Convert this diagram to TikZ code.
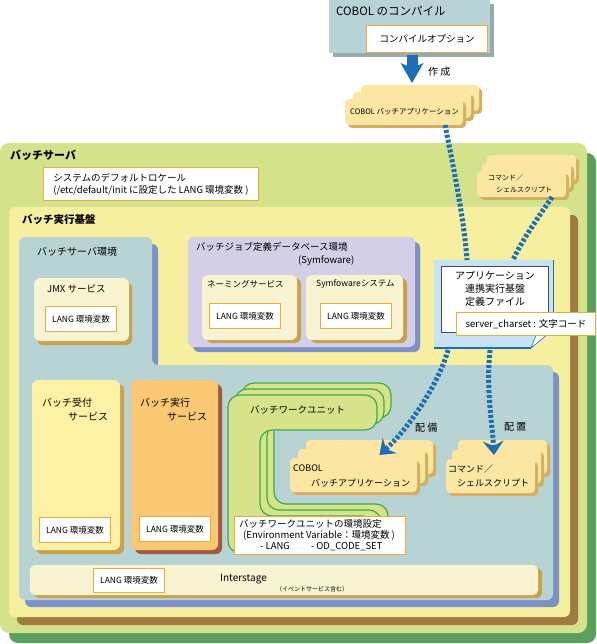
\documentclass[tikz,border=0pt]{standalone}
\usepackage{fontspec}
\setmainfont{Noto Sans CJK JP}
\usetikzlibrary{arrows.meta,shadows}

\definecolor{compblue}{HTML}{B8D3D5}
\definecolor{compshade}{HTML}{93ABAE}
\definecolor{srvgreen}{HTML}{D5E28C}
\definecolor{srvshade}{HTML}{5B9F5F}
\definecolor{baseyellow}{HTML}{F5EF9F}
\definecolor{baseshade}{HTML}{A07B3F}
\definecolor{envblue}{HTML}{B8D3D4}
\definecolor{envshade}{HTML}{7C91C9}
\definecolor{dblav}{HTML}{D3CFE7}
\definecolor{creamcard}{HTML}{F8F3D1}
\definecolor{creamshade}{HTML}{C9A04E}
\definecolor{stackfill}{HTML}{FBE6A2}
\definecolor{stackshade}{HTML}{D4AF60}
\definecolor{recvfill}{HTML}{FEF0A5}
\definecolor{execfill}{HTML}{FAC873}
\definecolor{execshade}{HTML}{9D5B3D}
\definecolor{boxorange}{HTML}{F2A93B}
\definecolor{flowblue}{HTML}{1B6EB8}
\definecolor{docblue}{HTML}{C6E2F3}
\definecolor{wugreen}{HTML}{D7E38A}
\definecolor{wuline}{HTML}{3DAA4A}

\tikzset{
  backing/.style n args={3}{general shadow={fill=#1, shadow xshift=#2, shadow yshift=#3}},
  pane/.style={anchor=north west, inner sep=0pt, outer sep=0pt, rounded corners=6pt},
  langbox/.style={anchor=north west, draw=boxorange, line width=1pt, fill=white,
    minimum width=71pt, minimum height=25pt, inner sep=0pt, font=\fontsize{8.5}{10}\selectfont},
  notebox/.style={anchor=north west, draw=boxorange, line width=1pt, fill=white, inner sep=0pt},
  card/.style={fill=stackfill, rounded corners=4pt, backing={stackshade}{3pt}{-3pt}},
  heading/.style={anchor=west, inner sep=0pt, font=\bfseries\fontsize{11}{13}\selectfont},
  txt/.style={anchor=west, inner sep=0pt, font=\fontsize{10}{12}\selectfont},
  flow/.style={draw=flowblue, line width=5pt, dash pattern=on 3pt off 2pt},
  flowtip/.style={-{Stealth[length=14pt,width=21pt,inset=5pt,line width=0pt]}},
  bigflow/.style={draw=flowblue, line width=11pt, -{Stealth[length=20pt,width=23pt,inset=5pt,line width=0pt]}},
  wuframe/.style={fill=wugreen, draw=wuline, line width=1.2pt, rounded corners=12pt},
}

\begin{document}
\begin{tikzpicture}[x=1pt, y=-1pt]
\useasboundingbox (0,0) rectangle (596,644);

% COBOL compile
\node[pane, rounded corners=0pt, fill=compblue, backing={compshade}{4pt}{-4pt},
  minimum width=161pt, minimum height=53pt] (compile) at (329,0) {};
\node[txt, font=\fontsize{11.5}{13}\selectfont] (compileTitle) at (336,11) {COBOL のコンパイル};
\node[notebox, minimum width=121pt, minimum height=27pt, font=\fontsize{9.5}{11}\selectfont]
  (compileOpt) at (366,25) {コンパイルオプション};

% COBOL app (top)
\foreach \k in {2,1}
  \fill[card, shift={({8*\k},{-7*\k})}] (345,99) rectangle (463,125);
\node[pane, card, minimum width=118pt, minimum height=26pt] (cobolTop) at (345,99) {};
\node[txt, font=\fontsize{7.5}{9}\selectfont] (cobolTopText) at (350,112) {COBOL バッチアプリケーション};

% batch server
\node[pane, rounded corners=9pt, fill=srvgreen, backing={srvshade}{9pt}{-10pt},
  minimum width=587pt, minimum height=490pt] (server) at (0,143) {};
\node[heading] (serverTitle) at (10,155) {バッチサーバ};
\node[notebox, minimum width=215pt, minimum height=33pt, align=left, font=\fontsize{9.5}{12}\selectfont]
  (locale) at (43,167) {システムのデフォルトロケール\\(/etc/default/init に設定した LANG 環境変数 )};

% command / shell script (top)
\foreach \k in {2,1}
  \fill[card, shift={({5*\k},{-8*\k})}] (477,171) rectangle (566,197);
\node[pane, card, minimum width=89pt, minimum height=26pt] (cmdTop) at (477,171) {};
\node[txt, font=\fontsize{7}{8}\selectfont] (cmdTopA) at (488,178) {コマンド／};
\node[txt, font=\fontsize{7}{8}\selectfont] (cmdTopB) at (496,190) {シェルスクリプト};

% batch execution base
\node[pane, fill=baseyellow, backing={baseshade}{8pt}{-8pt},
  minimum width=561pt, minimum height=410pt] (base) at (9,207) {};
\node[heading, font=\bfseries\fontsize{10.5}{12}\selectfont] (baseTitle) at (22,220) {バッチ実行基盤};

% batch server environment
\fill[envshade, rounded corners=6pt, shift={(6,7)}]
  (19,237) -- (152,237) -- (152,365) -- (553,365) -- (553,600) -- (19,600) -- cycle;
\fill[envblue, rounded corners=6pt]
  (19,237) -- (152,237) -- (152,365) -- (553,365) -- (553,600) -- (19,600) -- cycle;
\node[txt] (envTitle) at (37,252) {バッチサーバ環境};

\node[pane, fill=creamcard, backing={creamshade}{3pt}{-4pt},
  minimum width=95pt, minimum height=63pt] (jmx) at (34,278) {};
\node[txt, font=\fontsize{9.5}{11}\selectfont] (jmxTitle) at (47,289) {JMX サービス};
\node[langbox] (jmxLang) at (45,306) {LANG 環境変数};

% job definition database
\node[pane, fill=dblav, backing={envshade}{5pt}{-5pt},
  minimum width=227pt, minimum height=110pt] (dbEnv) at (188,237) {};
\node[txt, font=\fontsize{9.5}{11}\selectfont] (dbTitle) at (196,247) {バッチジョブ定義データベース環境};
\node[txt, font=\fontsize{9.5}{11}\selectfont] (dbSub) at (298,261) {(Symfoware)};

\node[pane, fill=creamcard, backing={creamshade}{4pt}{-3pt},
  minimum width=95pt, minimum height=65pt] (naming) at (202,275) {};
\node[txt, font=\fontsize{8.5}{10}\selectfont] (namingTitle) at (207,284) {ネーミングサービス};
\node[langbox] (namingLang) at (209,303) {LANG 環境変数};

\node[pane, fill=creamcard, backing={creamshade}{4pt}{-3pt},
  minimum width=97pt, minimum height=65pt] (symf) at (306,275) {};
\node[txt, font=\fontsize{8.5}{10}\selectfont] (symfTitle) at (316,284) {Symfowareシステム};
\node[langbox] (symfLang) at (320,303) {LANG 環境変数};

% application definition file
\node[pane, rounded corners=0pt, fill=docblue, minimum width=119pt, minimum height=88pt] (appDoc) at (434,260) {};
\draw[flowblue, line width=0.6pt] (appDoc.north east) -- ++(0,70);
\fill[baseyellow] (553.6,330) -- (553.6,349) -- (531,349) -- cycle;
\filldraw[fill=white, draw=flowblue, line width=0.6pt] (553,330) -- (536,335) -- (531,348) -- cycle;
\draw[flowblue, line width=2.5pt] (appDoc.south west) -- ++(97,0);
\node[pane, rounded corners=0pt, draw=black!70, line width=0.6pt, fill=white,
  minimum width=107pt, minimum height=66pt] (appDef) at (441,266) {};
\node[anchor=north, inner sep=0pt, align=center, font=\fontsize{10}{13}\selectfont]
  (appDefText) at (495,271) {アプリケーション\\連携実行基盤\\定義ファイル};
\node[notebox, minimum width=139pt, minimum height=23pt, font=\fontsize{9.5}{11}\selectfont]
  (charset) at (456,312) {server\_charset : 文字コード};

% accept / execution services
\node[pane, fill=recvfill, backing={creamshade}{4pt}{-4pt},
  minimum width=88pt, minimum height=170pt] (recv) at (32,380) {};
\node[txt] (recvTitleA) at (42,403) {バッチ受付};
\node[txt] (recvTitleB) at (68,417) {サービス};
\node[langbox] (recvLang) at (39,517) {LANG 環境変数};

\node[pane, fill=execfill, backing={execshade}{4pt}{-4pt},
  minimum width=87pt, minimum height=170pt] (exec) at (131,380) {};
\node[txt] (execTitleA) at (140,403) {バッチ実行};
\node[txt] (execTitleB) at (167,417) {サービス};
\node[langbox] (execLang) at (139,516) {LANG 環境変数};

% batch work unit
\foreach \k in {2,1,0}
  \draw[wuframe, shift={({7*\k},{-6*\k})}] (228,395) -- (377,395) -- (377,430) -- (260,430)
    -- (260,516) -- (374,516) -- (374,553) -- (228,553) -- cycle;
\node[txt, font=\fontsize{9.5}{11}\selectfont] (wunit) at (250,410) {バッチワークユニット};

\foreach \k in {2,1}
  \fill[card, shift={({8*\k},{-9*\k})}] (290,458) rectangle (417,492);
\node[pane, card, minimum width=127pt, minimum height=34pt] (cobolLow) at (290,458) {};
\node[txt, font=\fontsize{9}{10}\selectfont] (cobolLowA) at (293,468) {COBOL};
\node[txt, font=\fontsize{9}{10}\selectfont] (cobolLowB) at (311,483) {バッチアプリケーション};

\foreach \k in {2,1}
  \fill[card, shift={({6*\k},{-9.5*\k})}] (446,459) rectangle (535,493);
\node[pane, card, minimum width=89pt, minimum height=34pt] (cmdLow) at (446,459) {};
\node[txt, font=\fontsize{9}{10}\selectfont] (cmdLowA) at (448,469) {コマンド／};
\node[txt, font=\fontsize{9}{10}\selectfont] (cmdLowB) at (457,483) {シェルスクリプト};

\node[notebox, minimum width=171pt, minimum height=38pt] (wuEnv) at (234,516) {};
\node[anchor=north west, inner sep=0pt, align=left, font=\fontsize{9.5}{11}\selectfont] (wuEnvText) at (239,519)
  {バッチワークユニットの環境設定\\\hspace*{4pt}(Environment Variable：環境変数 )\\\hspace*{21pt}- LANG\hspace{21pt}- OD\_CODE\_SET};

% Interstage
\node[pane, rounded corners=5pt, fill=creamcard, backing={creamshade}{4pt}{-3pt},
  minimum width=508pt, minimum height=30pt] (interstage) at (30,565) {};
\node[langbox, minimum height=24pt] (isLang) at (93,568) {LANG 環境変数};
\node[txt] (isTitle) at (220,579) {Interstage};
\node[txt, font=\fontsize{6}{7}\selectfont] (isNote) at (276,589) {（イベントサービス含む）};

% flows
\draw[bigflow] ([xshift=2.5pt,yshift=-2pt]compile.south) -- ([xshift=8pt,yshift=16pt]cobolTop.north);
\node[txt, font=\fontsize{10}{12}\selectfont] (madeLabel) at (428,72) {作 成};

\draw[flow] ([xshift=41pt]cobolTop.south) .. controls (455,175) and (464,220) .. ([xshift=-26.5pt]appDoc.north);
\draw[flow] ([xshift=30.5pt]cmdTop.south) .. controls (540,215) and (522,240) .. ([xshift=19.5pt]appDoc.north);

\draw[flow, flowtip] ([xshift=-45.5pt,yshift=-2pt]appDoc.south) .. controls (440,380) and (412,425) .. ([xshift=26pt,yshift=3pt]cobolLow.north);
\draw[flow, flowtip] ([xshift=-3.5pt,yshift=-2pt]appDoc.south) .. controls (486,390) and (492,420) .. ([xshift=3.5pt,yshift=4pt]cmdLow.north);
\node[txt] (deployLabel) at (415,428) {配 備};
\node[txt] (placeLabel) at (504,427) {配 置};

\end{tikzpicture}
\end{document}
